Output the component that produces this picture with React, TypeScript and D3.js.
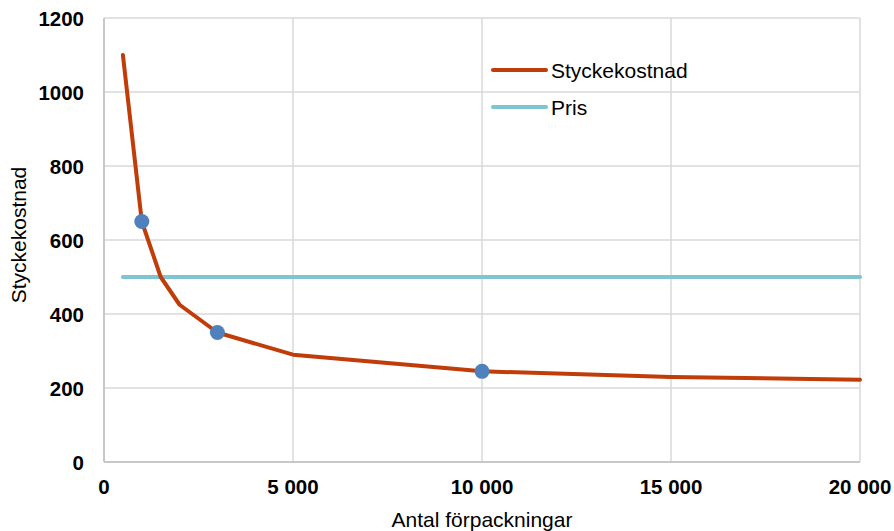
import React from "react";
import * as d3 from "d3";

const quantities = [500, 1000, 1500, 2000, 3000, 5000, 10000, 15000, 20000];
const unitCost = [1100, 650, 500, 425, 350, 290, 245, 230, 222.5];
const priceX = [500, 20000];
const priceY = [500, 500];
const markerX = [1000, 3000, 10000];
const markerY = [650, 350, 245];
const xTicks = [0, 5000, 10000, 15000, 20000];
const yTicks = [0, 200, 400, 600, 800, 1000, 1200];
const seriesNames = ["Styckekostnad", "Pris"];

const W = 894, H = 531;
const left = 104, right = 860, top = 18, bottom = 462;
const RED = "#c03c08";
const TEAL = "#7ec4d2";
const BLUE = "#4f81bd";
const GRID = "#d9d9d9";
const FONT = "Liberation Sans, Arial, sans-serif";

export default function App() {
  const x = d3.scaleLinear().domain([0, 20000]).range([left, right]);
  const y = d3.scaleLinear().domain([0, 1200]).range([bottom, top]);
  const line = d3.line<[number, number]>().x(d => x(d[0])).y(d => y(d[1]));
  const costPts = quantities.map((q, i) => [q, unitCost[i]] as [number, number]);
  const pricePts = priceX.map((q, i) => [q, priceY[i]] as [number, number]);
  const fmt = (v: number) => d3.format(",")(v).replace(/,/g, " ");
  return (
    <svg width={W} height={H} style={{ position: "absolute", left: 0, top: 0 }} fontFamily={FONT}>
      <rect width={W} height={H} fill="#fff" />
      {yTicks.map(t => (
        <line key={"gy" + t} x1={left} x2={right} y1={y(t)} y2={y(t)} stroke={GRID} strokeWidth={1.5} />
      ))}
      {xTicks.map(t => (
        <line key={"gx" + t} x1={x(t)} x2={x(t)} y1={top} y2={bottom} stroke={GRID} strokeWidth={1.5} />
      ))}
      <line x1={left} x2={left} y1={top} y2={bottom} stroke="#bfbfbf" strokeWidth={1.5} />
      <line x1={left} x2={right} y1={bottom} y2={bottom} stroke="#bfbfbf" strokeWidth={1.5} />
      {yTicks.map(t => (
        <text key={"ty" + t} x={84} y={y(t) + 7.5} textAnchor="end" fontSize={20.5} fontWeight="bold" fill="#000">{t}</text>
      ))}
      {xTicks.map(t => (
        <text key={"tx" + t} x={x(t)} y={494} textAnchor="middle" fontSize={20.5} fontWeight="bold" fill="#000">{fmt(t)}</text>
      ))}
      <text x={482} y={527} textAnchor="middle" fontSize={21} fill="#000">Antal förpackningar</text>
      <text transform={`translate(26,235) rotate(-90)`} textAnchor="middle" fontSize={21} fill="#000">Styckekostnad</text>
      <path d={line(pricePts) || ""} fill="none" stroke={TEAL} strokeWidth={4} strokeLinecap="round" />
      <path d={line(costPts) || ""} fill="none" stroke={RED} strokeWidth={4} strokeLinecap="round" strokeLinejoin="round" />
      {markerX.map((m, i) => (
        <circle key={"m" + i} cx={x(m)} cy={y(markerY[i])} r={7.5} fill={BLUE} />
      ))}
      {seriesNames.map((n, i) => (
        <g key={n} transform={`translate(0,${70 + i * 37})`}>
          <line x1={493} x2={546} y1={0} y2={0} stroke={i === 0 ? RED : TEAL} strokeWidth={4} strokeLinecap="round" />
          <text x={551} y={8} fontSize={21} fill="#000">{n}</text>
        </g>
      ))}
    </svg>
  );
}
